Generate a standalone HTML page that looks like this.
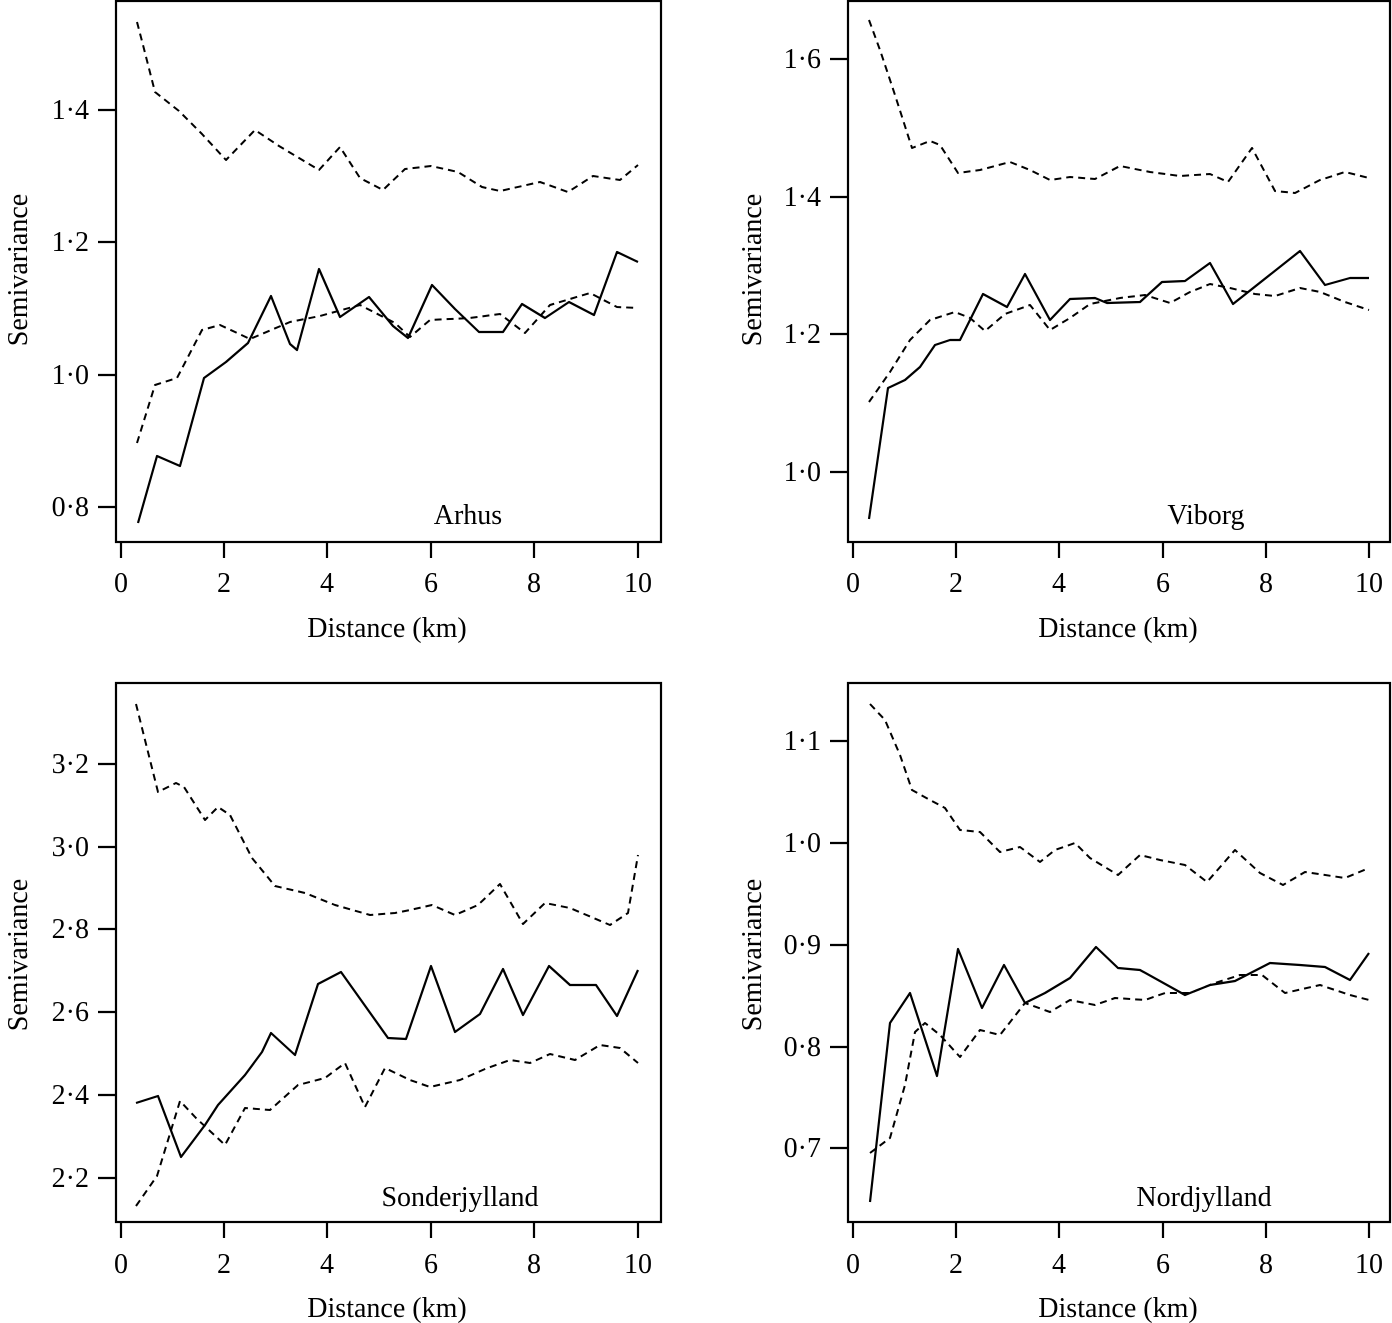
<!DOCTYPE html>
<html><head><meta charset="utf-8"><style>
html,body{margin:0;padding:0;background:#fff}
svg{display:block}
text{font-family:"Liberation Serif","DejaVu Serif",serif;font-size:28px;fill:#000}
.f{fill:none;stroke:#000;stroke-width:2.2}
.s{fill:none;stroke:#000;stroke-width:2.2;stroke-linejoin:round}
.d{fill:none;stroke:#000;stroke-width:2;stroke-dasharray:7,5;stroke-linejoin:round}
</style></head><body>
<svg width="1392" height="1323" viewBox="0 0 1392 1323" xmlns="http://www.w3.org/2000/svg">
<!-- Panel 1 Arhus -->
<rect class="f" x="116" y="1" width="545" height="541"/>
<g class="f">
<path d="M121 542v16M224 542v16M327 542v16M431 542v16M534 542v16M638 542v16"/>
<path d="M116 110h-18M116 242h-18M116 375h-18M116 507h-18"/>
</g>
<g text-anchor="middle">
<text x="121" y="592">0</text><text x="224" y="592">2</text><text x="327" y="592">4</text><text x="431" y="592">6</text><text x="534" y="592">8</text><text x="638" y="592">10</text>
<text x="387" y="637">Distance (km)</text>
<text x="468" y="524">Arhus</text>
</g>
<g text-anchor="end">
<text x="89" y="119">1·4</text><text x="89" y="251">1·2</text><text x="89" y="384">1·0</text><text x="89" y="516">0·8</text>
</g>
<text transform="translate(27,270) rotate(-90)" text-anchor="middle">Semivariance</text>
<polyline class="s" points="138,523 157,456 180,466 204,378 226,362 248,343 271,296 290,344 297,350 319,269 340,317 369,297 393,326 408,338 432,285 455,309 479,332 503,332 522,304 545,318 569,302 594,315 617,252 638,262"/>
<polyline class="d" points="137,22 143,45 155,92 179,111 202,134 226,160 255,130 279,146 319,170 340,147 360,178 383,190 405,169 431,166 458,172 482,187 500,191 540,182 568,192 593,176 620,180 638,165"/>
<polyline class="d" points="137,443 155,385 177,378 202,330 220,325 250,339 290,322 320,316 360,305 395,323 410,337 430,320 470,318 500,314 525,333 550,305 590,293 617,307 638,308"/>

<!-- Panel 2 Viborg -->
<rect class="f" x="848" y="1" width="542" height="541"/>
<g class="f">
<path d="M853 542v16M956 542v16M1059 542v16M1163 542v16M1266 542v16M1369 542v16"/>
<path d="M848 59h-18M848 197h-18M848 334h-18M848 472h-18"/>
</g>
<g text-anchor="middle">
<text x="853" y="592">0</text><text x="956" y="592">2</text><text x="1059" y="592">4</text><text x="1163" y="592">6</text><text x="1266" y="592">8</text><text x="1369" y="592">10</text>
<text x="1118" y="637">Distance (km)</text>
<text x="1206" y="524">Viborg</text>
</g>
<g text-anchor="end">
<text x="821" y="68">1·6</text><text x="821" y="206">1·4</text><text x="821" y="343">1·2</text><text x="821" y="481">1·0</text>
</g>
<text transform="translate(761,270) rotate(-90)" text-anchor="middle">Semivariance</text>
<polyline class="s" points="869,519 888,388 905,380 920,367 935,345 950,340 960,340 983,294 1007,307 1025,274 1050,320 1070,299 1095,298 1107,303 1140,302 1162,282 1185,281 1210,263 1233,304 1300,251 1325,285 1350,278 1369,278"/>
<polyline class="d" points="869,20 880,50 895,95 912,148 930,141 940,145 958,173 980,170 1010,162 1030,170 1050,180 1070,177 1095,179 1120,166 1150,172 1180,176 1210,174 1228,182 1252,148 1275,191 1295,193 1320,180 1345,172 1369,178"/>
<polyline class="d" points="869,402 890,372 910,340 930,320 955,312 970,318 985,331 1005,314 1030,305 1050,330 1070,318 1090,304 1120,298 1145,295 1170,303 1190,292 1210,284 1230,288 1255,294 1275,296 1300,288 1320,292 1345,302 1369,310"/>

<!-- Panel 3 Sonderjylland -->
<rect class="f" x="116" y="683" width="545" height="539"/>
<g class="f">
<path d="M121 1222v16M224 1222v16M327 1222v16M431 1222v16M534 1222v16M638 1222v16"/>
<path d="M116 764h-18M116 847h-18M116 929h-18M116 1012h-18M116 1095h-18M116 1178h-18"/>
</g>
<g text-anchor="middle">
<text x="121" y="1273">0</text><text x="224" y="1273">2</text><text x="327" y="1273">4</text><text x="431" y="1273">6</text><text x="534" y="1273">8</text><text x="638" y="1273">10</text>
<text x="387" y="1317">Distance (km)</text>
<text x="460" y="1206">Sonderjylland</text>
</g>
<g text-anchor="end">
<text x="89" y="773">3·2</text><text x="89" y="856">3·0</text><text x="89" y="938">2·8</text><text x="89" y="1021">2·6</text><text x="89" y="1104">2·4</text><text x="89" y="1187">2·2</text>
</g>
<text transform="translate(27,955) rotate(-90)" text-anchor="middle">Semivariance</text>
<polyline class="s" points="136,1103 158,1096 181,1157 205,1125 218,1105 245,1075 262,1052 271,1033 295,1055 318,984 341,972 388,1038 406,1039 431,966 455,1032 480,1014 503,969 523,1015 549,966 570,985 596,985 617,1016 638,970"/>
<polyline class="d" points="136,704 145,740 158,792 176,783 184,787 205,820 218,807 230,815 252,858 275,886 305,893 335,905 370,915 395,913 410,910 432,905 455,915 478,905 500,884 523,924 545,903 570,908 610,925 628,913 638,855"/>
<polyline class="d" points="136,1206 157,1176 180,1101 196,1118 225,1145 245,1108 270,1110 298,1085 325,1078 345,1063 365,1107 385,1068 410,1080 430,1087 460,1080 485,1069 510,1060 530,1063 550,1054 575,1060 600,1045 620,1048 638,1063"/>

<!-- Panel 4 Nordjylland -->
<rect class="f" x="848" y="683" width="542" height="539"/>
<g class="f">
<path d="M853 1222v16M956 1222v16M1059 1222v16M1163 1222v16M1266 1222v16M1369 1222v16"/>
<path d="M848 741h-18M848 843h-18M848 945h-18M848 1047h-18M848 1148h-18"/>
</g>
<g text-anchor="middle">
<text x="853" y="1273">0</text><text x="956" y="1273">2</text><text x="1059" y="1273">4</text><text x="1163" y="1273">6</text><text x="1266" y="1273">8</text><text x="1369" y="1273">10</text>
<text x="1118" y="1317">Distance (km)</text>
<text x="1204" y="1206">Nordjylland</text>
</g>
<g text-anchor="end">
<text x="821" y="750">1·1</text><text x="821" y="852">1·0</text><text x="821" y="954">0·9</text><text x="821" y="1056">0·8</text><text x="821" y="1157">0·7</text>
</g>
<text transform="translate(761,955) rotate(-90)" text-anchor="middle">Semivariance</text>
<polyline class="s" points="870,1202 890,1023 910,993 937,1076 958,949 982,1008 1004,965 1025,1003 1045,993 1070,978 1096,947 1118,968 1140,970 1185,995 1210,985 1235,981 1270,963 1300,965 1325,967 1350,980 1369,953"/>
<polyline class="d" points="870,704 885,720 900,755 912,790 930,800 945,808 960,830 980,832 1000,852 1020,847 1040,862 1055,850 1075,843 1090,858 1118,875 1140,855 1160,860 1185,865 1207,882 1235,850 1260,873 1283,885 1305,872 1345,878 1369,868"/>
<polyline class="d" points="870,1153 890,1138 905,1085 915,1032 925,1023 940,1035 960,1057 980,1030 1000,1035 1025,1003 1050,1012 1070,1000 1095,1005 1115,998 1145,1000 1165,993 1190,993 1215,983 1240,975 1262,975 1285,993 1320,985 1350,995 1369,1000"/>
</svg>
</body></html>
